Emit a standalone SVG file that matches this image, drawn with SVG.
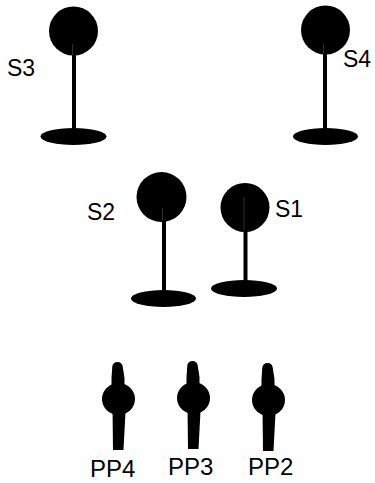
<svg xmlns="http://www.w3.org/2000/svg" width="375" height="483" viewBox="0 0 375 483">
<style>
.f{fill:#000}
.stem{stroke:#000;stroke-width:4;fill:none}
.seam{stroke:#3a3a3a;stroke-width:0.8;fill:none}
.lbl{font-family:"Liberation Sans",Arial,sans-serif;font-size:23px;fill:#000}
</style>
<defs>
<g id="pp">
<path class="f" d="M111.5,378 L112.3,366.5 Q113,362 117.5,362 Q122,362 122.7,366.5 L124.5,378 L124.5,392 L111.5,392 Z"/>
<ellipse class="f" cx="118.5" cy="399" rx="16.5" ry="16"/>
<path class="f" d="M112.5,408 L125.7,408 L123.5,450 L113,450 Z"/>
</g>
</defs>
<rect width="375" height="483" fill="#fff"/>
<g id="S3">
<circle class="f" cx="73.5" cy="31" r="24.5"/>
<line class="stem" x1="74" y1="44" x2="74" y2="132"/>
<line class="seam" x1="72.5" y1="44" x2="72.5" y2="55"/>
<ellipse class="f" cx="73.5" cy="136.5" rx="33" ry="8.5"/>
<text class="lbl" x="7" y="76">S3</text>
</g>
<g id="S4">
<circle class="f" cx="325.5" cy="30" r="24.5"/>
<line class="stem" x1="325" y1="44" x2="325" y2="132"/>
<line class="seam" x1="323.5" y1="44" x2="323.5" y2="54"/>
<ellipse class="f" cx="325.5" cy="136.5" rx="32.5" ry="8.5"/>
<text class="lbl" x="343" y="67">S4</text>
</g>
<g id="S2">
<circle class="f" cx="161.5" cy="197" r="25"/>
<line class="stem" x1="164" y1="208" x2="164" y2="294"/>
<line class="seam" x1="162.5" y1="208" x2="162.5" y2="221"/>
<ellipse class="f" cx="163.5" cy="298.5" rx="32.5" ry="8.5"/>
<text class="lbl" x="87" y="220">S2</text>
</g>
<g id="S1">
<circle class="f" cx="245" cy="207.5" r="24.5"/>
<line class="stem" x1="245.5" y1="197" x2="245.5" y2="284"/>
<line class="seam" x1="244" y1="197" x2="244" y2="231"/>
<ellipse class="f" cx="244" cy="288.5" rx="33" ry="8.5"/>
<text class="lbl" x="275" y="217">S1</text>
</g>
<g id="PP4">
<use href="#pp"/>
<text class="lbl" x="90" y="477" style="font-size:24px">PP4</text>
</g>
<g id="PP3">
<use href="#pp" transform="translate(75,-1)"/>
<text class="lbl" x="168" y="475" style="font-size:24px">PP3</text>
</g>
<g id="PP2">
<use href="#pp" transform="translate(150,1)"/>
<text class="lbl" x="248" y="475" style="font-size:24px">PP2</text>
</g>
<g id="connectors"/>
</svg>
